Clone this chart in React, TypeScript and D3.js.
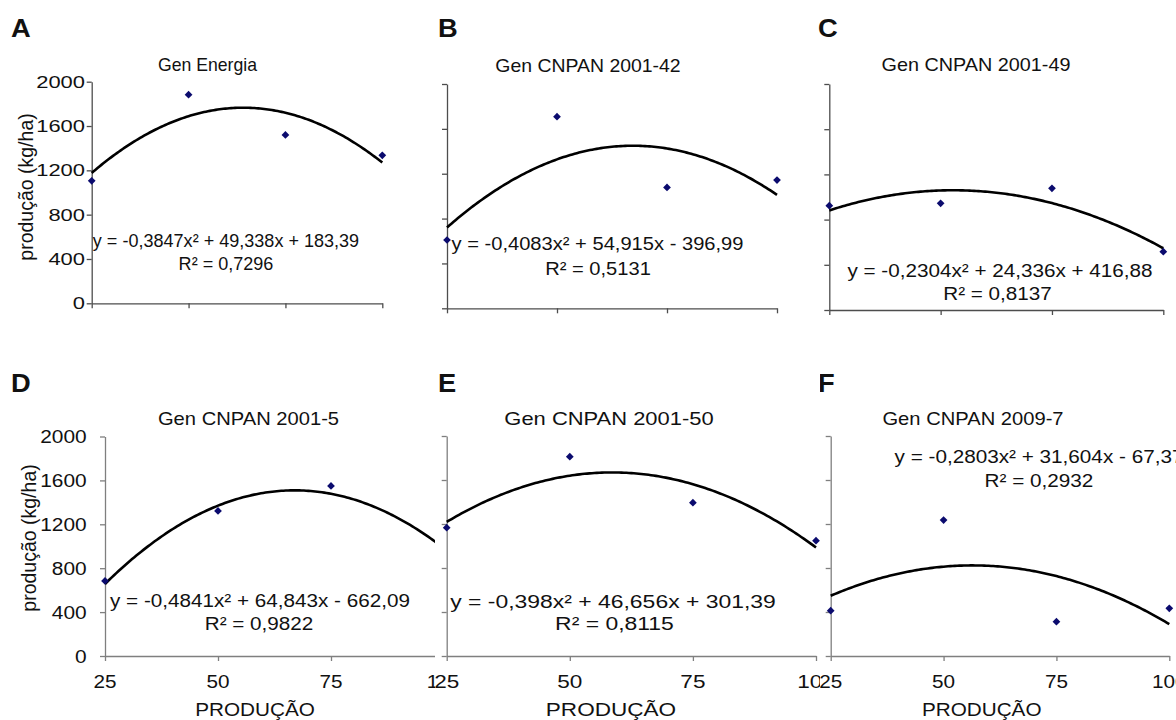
import React, { useEffect, useRef } from "react";
import * as d3 from "d3";

// doses on the x axis and yield ticks on the y axis
const doses = [25, 50, 75, 100];
const yTicks = [0, 400, 800, 1200, 1600, 2000];

const letters = ["A", "B", "C", "D", "E", "F"];
const titles = [
  "Gen Energia",
  "Gen CNPAN 2001-42",
  "Gen CNPAN 2001-49",
  "Gen CNPAN 2001-5",
  "Gen CNPAN 2001-50",
  "Gen CNPAN 2009-7",
];

const yieldA = [1106, 1883, 1519, 1336];
const yieldB = [609, 1708, 1078, 1143];
const yieldC = [923, 944, 1077, 516];
const yieldD = [684, 1322, 1550, null];
const yieldE = [1166, 1812, 1394, 1048];
const yieldF = [412, 1236, 312, 434];

// quadratic trend coefficients [a, b, c] for y = a x^2 + b x + c
const coefA = [-0.3847, 49.338, 183.39];
const coefB = [-0.4083, 54.915, -396.99];
const coefC = [-0.2304, 24.336, 416.88];
const coefD = [-0.4841, 64.843, -662.09];
const coefE = [-0.398, 46.656, 301.39];
const coefF = [-0.2803, 31.604, -67.37];

const equations = [
  "y = -0,3847x² + 49,338x + 183,39",
  "y = -0,4083x² + 54,915x - 396,99",
  "y = -0,2304x² + 24,336x + 416,88",
  "y = -0,4841x² + 64,843x - 662,09",
  "y = -0,398x² + 46,656x + 301,39",
  "y = -0,2803x² + 31,604x - 67,37",
];
const r2Labels = ["R² = 0,7296", "R² = 0,5131", "R² = 0,8137", "R² = 0,9822", "R² = 0,8115", "R² = 0,2932"];

const yTitle = "produção (kg/ha)";
const xTitle = "PRODUÇÃO";

const FONT = "'Liberation Sans', Arial, sans-serif";

// where each sub-chart sits in the composite (the pieces overlap a little)
const layout = [
  { clip: [0, 0, 430, 345], xr: [91.7, 382.3], yr: [303.3, 81.7], letter: [11, 37], title: [207.5, 71], sx: 0.98, eq: [226, 246.5], r2: [226, 269.5], eqSx: 0.976, axis: "#4d4d4d", yLabels: { size: 16.5, sx: 1.33, gap: 6.7 }, yTitle: [33, 187], xLabels: false },
  { clip: [430, 0, 370, 345], xr: [447, 777], yr: [308.3, 84], letter: [438, 37], title: [588, 72], sx: 1.08, eq: [597.5, 250], r2: [598, 275], eqSx: 1.088, axis: "#4d4d4d", yLabels: null, yTitle: null, xLabels: false },
  { clip: [800, 0, 376, 345], xr: [829.3, 1163.3], yr: [310, 84], letter: [818, 37], title: [976, 71], sx: 1.1, eq: [1000, 277], r2: [997.5, 300], eqSx: 1.118, axis: "#4d4d4d", yLabels: null, yTitle: null, xLabels: false },
  { clip: [0, 345, 435, 375], xr: [105, 444], yr: [656, 436.5], letter: [11, 392], title: [248.5, 425], sx: 1.12, eq: [260, 607], r2: [259, 630], eqSx: 1.118, axis: "#7f7f7f", yLabels: { size: 18.5, sx: 1.13, gap: 18.3 }, yTitle: [36, 538], xLabels: true, xTitleX: 255 },
  { clip: [435, 345, 385, 375], xr: [446.7, 816], yr: [656, 436], letter: [438, 392], title: [609, 425], sx: 1.22, eq: [613, 607.5], r2: [614.5, 630], eqSx: 1.24, axis: "#7f7f7f", yLabels: null, yTitle: null, xLabels: true, xTitleX: 611 },
  { clip: [820, 345, 356, 375], xr: [830.7, 1169.3], yr: [656, 436], letter: [818, 392], title: [973, 425], sx: 1.12, eq: [1039, 463], r2: [1039, 487], eqSx: 1.12, axis: "#7f7f7f", yLabels: null, yTitle: null, xLabels: true, xTitleX: 981.7 },
];

const yields = [yieldA, yieldB, yieldC, yieldD, yieldE, yieldF];
const coefs = [coefA, coefB, coefC, coefD, coefE, coefF];

const stretchText = (g, x, y, str, size, sx, anchor = "middle", weight = "normal") =>
  g
    .append("text")
    .attr("transform", `translate(${x},${y}) scale(${sx},1)`)
    .attr("text-anchor", anchor)
    .attr("font-family", FONT)
    .attr("font-size", size)
    .attr("font-weight", weight)
    .attr("fill", "#111")
    .text(str);

export default function App() {
  const ref = useRef(null);

  useEffect(() => {
    const svg = d3.select(ref.current);
    svg.selectAll("*").remove();
    svg.append("rect").attr("width", 1176).attr("height", 720).attr("fill", "#fff");
    const defs = svg.append("defs");

    layout.forEach((p, i) => {
      const [cx, cy, cw, ch] = p.clip;
      defs.append("clipPath").attr("id", `clip${i}`).append("rect").attr("x", cx).attr("y", cy).attr("width", cw).attr("height", ch);

      const g = svg.append("g").attr("clip-path", `url(#clip${i})`);
      g.append("rect").attr("x", cx).attr("y", cy).attr("width", cw).attr("height", ch).attr("fill", "#fff");

      const x = d3.scaleLinear().domain([25, 100]).range(p.xr);
      const y = d3.scaleLinear().domain([0, 2000]).range(p.yr);

      // axes
      const yAxis = g
        .append("g")
        .attr("transform", `translate(${p.xr[0]},0)`)
        .call(d3.axisLeft(y).tickValues(yTicks).tickSize(5).tickSizeOuter(0).tickFormat(() => ""));
      const xAxis = g
        .append("g")
        .attr("transform", `translate(0,${p.yr[0]})`)
        .call(d3.axisBottom(x).tickValues(doses).tickSize(5).tickSizeOuter(0).tickFormat(() => ""));
      [yAxis, xAxis].forEach((a) => {
        a.select(".domain").attr("stroke", p.axis).attr("stroke-width", 1.3);
        a.selectAll(".tick line").attr("stroke", p.axis).attr("stroke-width", 1.3);
      });

      if (p.yLabels) {
        yTicks.forEach((t) => {
          stretchText(g, p.xr[0] - p.yLabels.gap, y(t) + p.yLabels.size * 0.36, String(t), p.yLabels.size, p.yLabels.sx, "end");
        });
        g.append("text")
          .attr("transform", `translate(${p.yTitle[0]},${p.yTitle[1]}) rotate(-90)`)
          .attr("text-anchor", "middle")
          .attr("font-family", FONT)
          .attr("font-size", 19.5)
          .attr("fill", "#111")
          .text(yTitle);
      }

      if (p.xLabels) {
        doses.forEach((d) => stretchText(g, x(d), 688, String(d), 18.5, p.sx));
        stretchText(g, p.xTitleX, 716, xTitle, 18.5, p.sx);
      }

      // trend curve
      const c = coefs[i];
      const pts = d3.range(25, 100.001, 0.5).map((v) => [v, c[0] * v * v + c[1] * v + c[2]]);
      g.append("path")
        .datum(pts)
        .attr("fill", "none")
        .attr("stroke", "#000")
        .attr("stroke-width", 2.6)
        .attr("d", d3.line().x((d) => x(d[0])).y((d) => y(d[1])).curve(d3.curveLinear));

      // observed points
      const obs = doses.map((d, k) => ({ d, v: yields[i][k] })).filter((o) => o.v != null);
      g.selectAll("path.pt")
        .data(obs)
        .enter()
        .append("path")
        .attr("class", "pt")
        .attr("d", d3.symbol(d3.symbolSquare, 30)())
        .attr("transform", (o) => `translate(${x(o.d)},${y(o.v)}) rotate(45)`)
        .attr("fill", "#0b0b6e");

      // texts
      stretchText(g, p.title[0], p.title[1], titles[i], 18, p.sx);
      stretchText(g, p.eq[0], p.eq[1], equations[i], 18.5, p.eqSx);
      stretchText(g, p.r2[0], p.r2[1], r2Labels[i], 18.5, p.eqSx);
      stretchText(g, p.letter[0], p.letter[1], letters[i], 26, 1.05, "start", "bold");
    });
  }, []);

  return (
    <svg
      ref={ref}
      width={1176}
      height={720}
      style={{ position: "absolute", left: 0, top: 0, display: "block" }}
    />
  );
}
